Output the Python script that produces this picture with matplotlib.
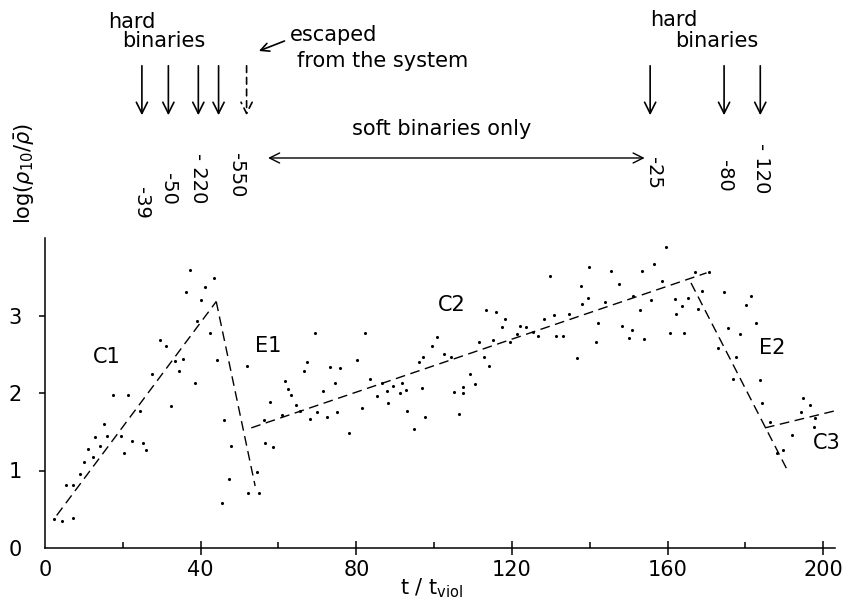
import matplotlib
matplotlib.use("Agg")
import matplotlib.pyplot as plt
from matplotlib.transforms import blended_transform_factory

plt.rcParams["font.family"] = ["DejaVu Sans"]
plt.rcParams["mathtext.fontset"] = "dejavusans"

# Points mesures (t / t_viol, log densite)
t_pts = [37.3, 43.3, 36.2, 41.1, 40.1, 39.0, 42.4, 29.6, 31.1, 35.4, 33.4, 34.5, 44.1, 27.4,
         38.6, 17.4, 21.4, 32.3, 24.4, 15.2, 12.9, 15.9, 19.5, 14.1, 11.1, 20.4, 22.4, 25.1,
         26.0, 10.1, 12.4, 9.0, 5.3, 7.3, 2.4, 4.3, 7.1,
         51.8, 69.4, 82.3, 67.3, 66.6, 73.3, 75.8, 80.3, 96.0, 61.7, 62.5, 63.2, 74.6, 71.4,
         57.8, 64.5, 83.5, 86.6, 89.5, 91.7, 87.8, 91.1, 92.8, 85.4, 88.1, 81.4, 46.0, 68.1,
         70.0, 72.4, 75.1, 93.1, 94.7, 60.8, 65.4, 56.3,
         47.8, 56.6, 58.5, 47.3, 54.4, 52.1, 55.0, 45.4, 78.2,
         129.8, 139.8, 145.4, 137.7, 147.4, 139.5, 138.1, 143.8, 151.1, 113.4, 115.9, 118.3,
         117.4, 122.1, 123.7, 128.3, 130.7, 134.7, 142.2, 148.2, 150.9, 150.1, 141.6, 136.7,
         100.7, 99.4, 102.6, 104.3, 97.1, 111.4, 115.1, 112.7, 114.1, 109.3, 107.5, 107.5,
         110.5, 105.1, 106.4, 97.7, 96.8, 131.4, 133.1, 121.3, 126.7, 125.4, 119.5,
         159.6, 156.4, 153.5, 158.5, 166.9, 170.5, 155.8, 153.0, 161.8, 163.7, 165.2, 162.1,
         168.8, 167.9, 174.6, 181.4, 180.1, 182.8, 175.4, 178.5, 172.9, 177.6, 176.7, 183.6,
         184.2, 194.8, 196.5, 194.3, 197.8, 160.5, 164.1, 154.0, 186.4,
         192.0, 197.5, 188.1, 189.6]
y_pts = [3.59, 3.49, 3.30, 3.37, 3.20, 2.93, 2.78, 2.69, 2.61, 2.44, 2.41, 2.28, 2.42, 2.25,
         2.13, 1.98, 1.97, 1.83, 1.77, 1.60, 1.43, 1.45, 1.44, 1.32, 1.28, 1.23, 1.38, 1.36,
         1.26, 1.11, 1.17, 0.96, 0.81, 0.81, 0.38, 0.35, 0.39,
         2.35, 2.78, 2.78, 2.40, 2.28, 2.33, 2.32, 2.43, 2.40, 2.15, 2.05, 1.97, 2.13, 2.03,
         1.88, 1.85, 2.18, 2.13, 2.09, 2.13, 2.03, 2.00, 2.04, 1.96, 1.87, 1.81, 1.65, 1.66,
         1.75, 1.69, 1.76, 1.77, 1.54, 1.71, 1.77, 1.65,
         1.31, 1.36, 1.30, 0.89, 0.98, 0.71, 0.71, 0.58, 1.49,
         3.51, 3.62, 3.58, 3.38, 3.41, 3.23, 3.15, 3.17, 3.25, 3.07, 3.05, 2.95,
         2.85, 2.86, 2.85, 2.95, 3.01, 3.02, 2.90, 2.87, 2.81, 2.71, 2.66, 2.45,
         2.72, 2.61, 2.50, 2.47, 2.47, 2.66, 2.69, 2.47, 2.35, 2.25, 2.08, 2.00,
         2.12, 2.01, 1.73, 1.69, 2.06, 2.74, 2.74, 2.76, 2.74, 2.79, 2.66,
         3.88, 3.67, 3.58, 3.45, 3.56, 3.56, 3.20, 3.07, 3.21, 3.12, 3.23, 3.02,
         3.31, 3.09, 3.30, 3.25, 3.13, 2.90, 2.84, 2.76, 2.58, 2.46, 2.18, 2.17,
         1.87, 1.94, 1.85, 1.76, 1.68, 2.77, 2.78, 2.70, 1.63,
         1.46, 1.56, 1.22, 1.27]

# Droites d'ajustement (phases C1, E1, C2, E2, C3)
fit_t = {"C1": [3.0, 44.0], "E1": [44.0, 54.0], "C2": [53.0, 170.0],
         "E2": [166.0, 190.5], "C3": [185.0, 203.0]}
fit_y = {"C1": [0.42, 3.18], "E1": [3.18, 0.80], "C2": [1.55, 3.55],
         "E2": [3.42, 1.03], "C3": [1.55, 1.77]}

phase_labels = ["C1", "E1", "C2", "E2", "C3"]
phase_t = [15.8, 57.4, 104.5, 186.8, 201.0]
phase_y = [2.47, 2.6, 3.14, 2.58, 1.35]

# Binaires dures (fleches du haut)
left_arrow_t = [24.9, 31.7, 39.4, 44.6]
escaped_t = 51.8
right_arrow_t = [155.5, 174.5, 183.8]
left_num = ["-39", "-50", "- 220", "-550"]
left_num_t = [24.9, 31.7, 39.4, 49.3]
left_num_top = [187, 173, 153, 153]
right_num = ["-25", "-80", "- 120"]
right_num_t = [156.3, 174.5, 184.0]
right_num_top = [157, 160, 143]

W, H = 852, 615
fig = plt.figure(figsize=(W / 100, H / 100), dpi=100)
ax = fig.add_axes([45 / W, 1 - 548 / H, 790 / W, 310 / H])

ax.scatter(t_pts, y_pts, s=5, color="black", linewidths=0)
for k in fit_t:
    ax.plot(fit_t[k], fit_y[k], color="black", lw=1.0, dashes=(7, 4))
for lab, tx, ty in zip(phase_labels, phase_t, phase_y):
    ax.text(tx, ty, lab, fontsize=15, ha="center", va="center")

ax.set_xlim(0, 203)
ax.set_ylim(0, 4.0)
for s in ["top", "right"]:
    ax.spines[s].set_visible(False)
for s in ["left", "bottom"]:
    ax.spines[s].set_linewidth(1.1)

ax.set_xticks([0, 40, 80, 120, 160, 200])
ax.set_xticks([20, 60, 100, 140, 180], minor=True)
ax.tick_params(axis="x", which="major", direction="inout", length=10, width=1.1,
               labelsize=15, pad=4)
ax.tick_params(axis="x", which="minor", direction="in", length=4.5, width=1.1)
ax.xaxis.get_major_ticks()[0].tick1line.set_visible(False)
ax.set_yticks([0, 1, 2, 3])
ax.tick_params(axis="y", direction="out", length=4.5, width=1.1, labelsize=15, pad=12)
ax.yaxis.get_major_ticks()[0].tick1line.set_visible(False)

ax.set_xlabel("t / t$_{\\mathregular{viol}}$", fontsize=15, labelpad=1)
ax.xaxis.set_label_coords(0.49, -0.09)
fig.text(25 / W, 1 - 173 / H, r"log($\rho_{10}/\bar{\rho}$)", rotation=90,
         fontsize=15, ha="center", va="center")

# Annotations au-dessus du graphique (x en donnees, y en pixels depuis le haut)
tr = blended_transform_factory(ax.transData, fig.transFigure)


def fy(py):
    return 1 - py / H


arr = dict(arrowstyle="->", lw=1.2, color="black", mutation_scale=20)
for x in left_arrow_t + right_arrow_t:
    ax.annotate("", xy=(x, fy(118)), xytext=(x, fy(63)), xycoords=tr, textcoords=tr,
                arrowprops=arr, annotation_clip=False)
ax.annotate("", xy=(escaped_t, fy(118)), xytext=(escaped_t, fy(63)), xycoords=tr,
            textcoords=tr, annotation_clip=False,
            arrowprops=dict(arrowstyle="->", lw=1.2, color="black", mutation_scale=20,
                            linestyle=(0, (4, 3))))

for lab, x, top in zip(left_num + right_num, left_num_t + right_num_t,
                       left_num_top + right_num_top):
    ax.text(x, fy(top), lab, transform=tr, rotation=270, fontsize=14,
            ha="center", va="top")

ax.text(16.2, fy(12), "hard", transform=tr, fontsize=15, ha="left", va="top")
ax.text(19.9, fy(31), "binaries", transform=tr, fontsize=15, ha="left", va="top")
ax.text(155.5, fy(10), "hard", transform=tr, fontsize=15, ha="left", va="top")
ax.text(162.0, fy(31), "binaries", transform=tr, fontsize=15, ha="left", va="top")

ax.text(62.8, fy(25), "escaped", transform=tr, fontsize=15, ha="left", va="top")
ax.text(64.8, fy(51), "from the system", transform=tr, fontsize=15, ha="left", va="top")
ax.annotate("", xy=(54.3, fy(52)), xytext=(62.2, fy(40)), xycoords=tr, textcoords=tr,
            arrowprops=dict(arrowstyle="->", lw=1.2, color="black", mutation_scale=15),
            annotation_clip=False)

ax.text(102.0, fy(119), "soft binaries only", transform=tr, fontsize=15,
        ha="center", va="top")
ax.annotate("", xy=(56.6, fy(158)), xytext=(154.8, fy(158)), xycoords=tr, textcoords=tr,
            arrowprops=dict(arrowstyle="<->", lw=1.0, color="black", mutation_scale=18),
            annotation_clip=False)

fig.savefig("out.png", dpi=100)
plt.close(fig)
